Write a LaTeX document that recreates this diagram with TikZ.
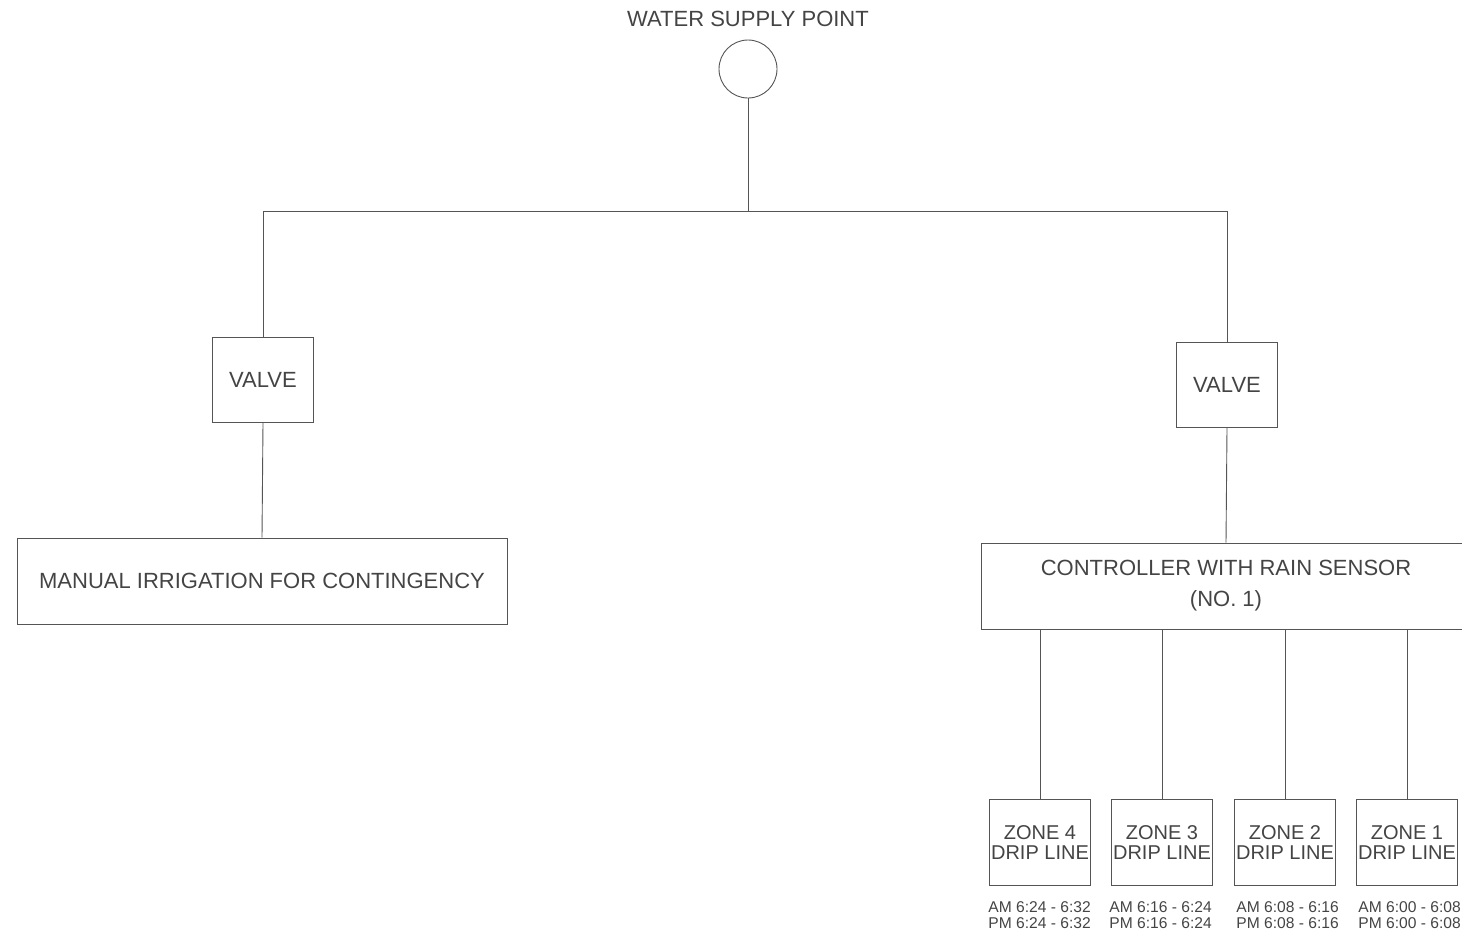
\documentclass[tikz,border=0pt]{standalone}
\usepackage{fontspec}
\setmainfont{Liberation Sans}
\definecolor{cadline}{HTML}{555555}
\definecolor{cadtext}{HTML}{444444}
\tikzset{
  pipe/.style={draw=cadline, line width=0.45pt},
  unitbox/.style={draw=cadline, line width=0.45pt, rectangle, align=center,
    text=cadtext, font=\fontsize{11}{15.5}\selectfont, inner sep=0pt},
  zonebox/.style={unitbox, minimum width=50.5pt, minimum height=43pt,
    font=\fontsize{10}{10}\selectfont},
  timetext/.style={text=cadtext, align=left, inner sep=0pt,
    font=\fontsize{7.8}{8}\selectfont}
}
\begin{document}
\begin{tikzpicture}[x=0.5pt, y=-0.5pt]
\useasboundingbox (0,0) rectangle (1462,934);
% supply point on top
\node[text=cadtext, font=\fontsize{11}{13}\selectfont] (title) at (748,19) {WATER SUPPLY POINT};
\node[pipe, circle, minimum size=29pt, inner sep=0pt] (supply) at (748,69) {};
\coordinate (tee) at (748,211);
% valves and what they feed
\node[unitbox, minimum width=50.5pt, minimum height=42.5pt] (valveL) at (263,380) {VALVE};
\node[unitbox, minimum width=50.5pt, minimum height=42.5pt] (valveR) at (1227,385) {VALVE};
\node[unitbox, minimum width=245pt, minimum height=43pt] (manual) at (262,581) {MANUAL IRRIGATION FOR CONTINGENCY};
\node[unitbox, minimum width=245pt, minimum height=43pt] (ctrl) at (1226,586) {CONTROLLER WITH RAIN SENSOR\\(NO. 1)};
% main pipe
\draw[pipe] (supply.south) -- (tee);
\draw[pipe] (valveL.north) |- (tee) -| (valveR.north);
\draw[pipe] (valveL.south) -- (manual.north);
\draw[pipe] (valveR.south) -- (ctrl.north);
% drip zones with their watering times
\foreach \zn/\zx/\ta/\tb/\tx in {4/1040/6:24/6:32/988, 3/1162/6:16/6:24/1109,
                                 2/1285/6:08/6:16/1236, 1/1407/6:00/6:08/1358} {
  \node[zonebox] (zone\zn) at (\zx,842) {ZONE \zn\\DRIP LINE};
  \draw[pipe] (zone\zn.north) -- (zone\zn.north |- ctrl.south);
  \node[timetext, anchor=north west] (time\zn) at (\tx,901) {AM \ta\ -\ \tb\\PM \ta\ -\ \tb};
}
\end{tikzpicture}
\end{document}
